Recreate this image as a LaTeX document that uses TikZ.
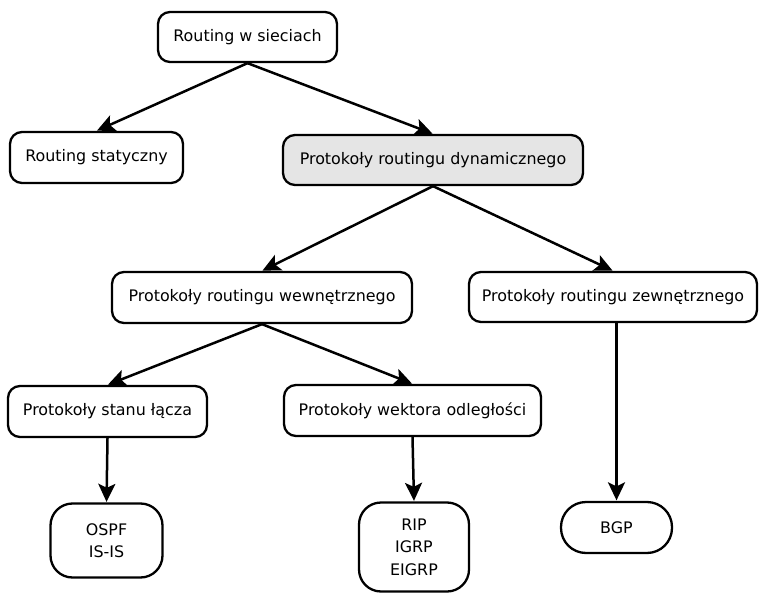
\documentclass[tikz,border=0pt]{standalone}
\usepackage{fontspec}
\setmainfont{DejaVu Sans}
\usetikzlibrary{arrows.meta}
\begin{document}
\begin{tikzpicture}[x=1pt,y=-1pt,
  box/.style={draw=black, line width=2.3pt, rounded corners=12pt, fill=white,
    inner sep=0pt, align=center, font=\fontsize{15.9}{22.5}\selectfont},
  link/.style={line width=2.5pt, -{Stealth[length=18pt,width=17pt,inset=4pt]}, shorten >=0.5pt}
]
\useasboundingbox (0,0) rectangle (759,593);

% tree of routing topics
\node[box, minimum width=179pt, minimum height=50pt] (root) at (247.5,37) {Routing w sieciach};
\node[box, minimum width=173pt, minimum height=51pt] (stat) at (96.5,157.5) {Routing statyczny};
\node[box, minimum width=300pt, minimum height=50pt, fill={rgb,255:red,229;green,229;blue,229}] (dyn) at (433,160) {Protokoły routingu dynamicznego};
\node[box, minimum width=300pt, minimum height=51pt] (igp) at (262,297.5) {Protokoły routingu wewnętrznego};
\node[box, minimum width=288pt, minimum height=50pt] (egp) at (613,297) {Protokoły routingu zewnętrznego};
\node[box, minimum width=199pt, minimum height=51pt] (ls) at (107.5,411.5) {Protokoły stanu łącza};
\node[box, minimum width=257pt, minimum height=51pt] (dv) at (412.5,410.5) {Protokoły wektora odległości};
\node[box, rounded corners=22pt, minimum width=112pt, minimum height=74pt] (ospf) at (106.5,540.5) {OSPF\\IS-IS};
\node[box, rounded corners=22pt, minimum width=110pt, minimum height=89pt] (rip) at (414,547) {RIP\\IGRP\\EIGRP};
\node[box, rounded corners=25pt, minimum width=111pt, minimum height=51pt] (bgp) at (616.5,527.5) {BGP};

% connectors
\draw[link] (root.south) -- (stat.north);
\draw[link] (root.south) -- (dyn.north);
\draw[link] (dyn.south) -- (igp.north);
\draw[link] (dyn.south) -- (egp.north);
\draw[link] (igp.south) -- (ls.north);
\draw[link] (igp.south) -- (dv.north);
\draw[link] (ls.south) -- (ospf.north);
\draw[link] (dv.south) -- (rip.north);
\draw[link] (egp.south -| bgp.north) -- (bgp.north);
\end{tikzpicture}
\end{document}
